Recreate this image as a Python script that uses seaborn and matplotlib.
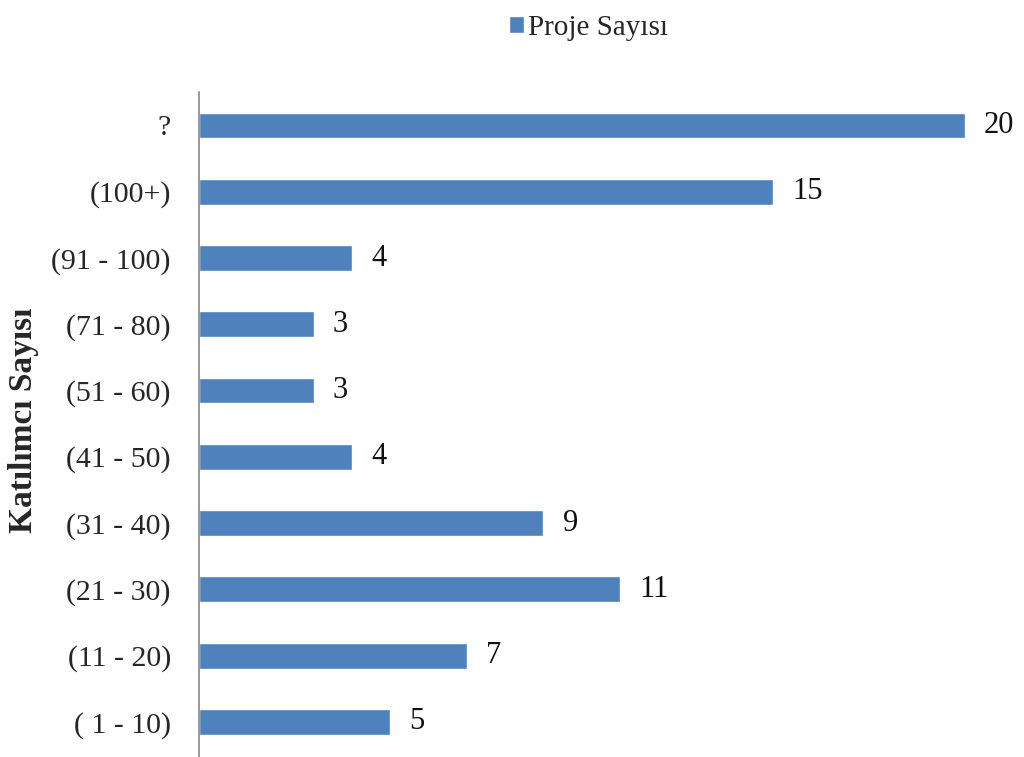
import matplotlib
matplotlib.use("Agg")
import matplotlib.pyplot as plt
import seaborn as sns

# Katılımcı sayısı aralıkları ve proje sayıları
kategoriler = ["?", "(100+)", "(91 - 100)", "(71 - 80)", "(51 - 60)",
               "(41 - 50)", "(31 - 40)", "(21 - 30)", "(11 - 20)", "( 1 - 10)"]
proje_sayisi = [20, 15, 4, 3, 3, 4, 9, 11, 7, 5]
seri_adi = "Proje Sayısı"
eksen_basligi = "Katılımcı Sayısı"

MAVI = "#4F81BD"

sns.set_style("white")
plt.rcParams["font.family"] = ["Liberation Serif", "DejaVu Serif"]

fig = plt.figure(figsize=(10.24, 7.57), dpi=100)
ax = fig.add_axes([0.194, 0.0, 0.806, 0.878])

sns.barplot(x=proje_sayisi, y=kategoriler, orient="h", color=MAVI,
            width=0.39, saturation=1, ax=ax, label=seri_adi)

for i, v in enumerate(proje_sayisi):
    ax.annotate(str(v), xy=(v, i), xytext=(14, 0), textcoords="offset points",
                va="center", ha="left", fontsize=22, color="#111111")

ax.set_xlim(0, 21.55)
ax.set_ylim(9.53, -0.5)
ax.set_xticks([])
ax.set_xlabel("")
ax.set_ylabel(eksen_basligi, fontsize=24, fontweight="bold")
ax.yaxis.set_label_coords(-0.193, 0.507)
ax.tick_params(axis="y", length=0, pad=20, labelsize=21.5)

for lado in ["top", "right", "bottom"]:
    ax.spines[lado].set_visible(False)
ax.spines["left"].set_color("#888888")
ax.spines["left"].set_linewidth(1.2)

ax.legend().remove()
handles, labels = ax.get_legend_handles_labels()
fig.legend(handles[:1], labels[:1], loc="upper center", bbox_to_anchor=(0.575, 1.015),
           frameon=False, fontsize=21, handlelength=0.5, handleheight=0.5,
           handletextpad=0.15)

fig.savefig("out.png", dpi=100)
